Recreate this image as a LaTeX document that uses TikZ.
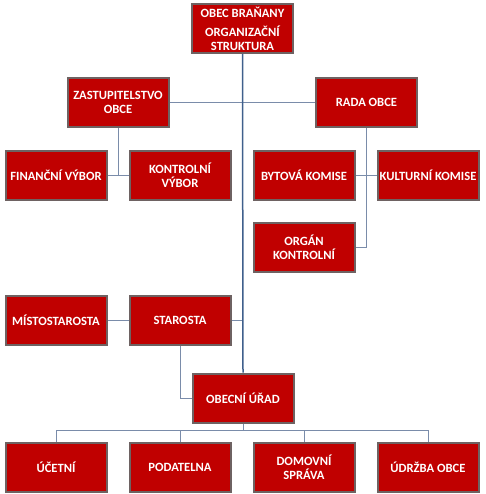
\documentclass[tikz,border=0pt]{standalone}
\usepackage{fontspec}
\setmainfont{Carlito}
\usetikzlibrary{positioning}

\definecolor{boxred}{HTML}{C00000}
\definecolor{boxrim}{HTML}{6E6262}
\definecolor{linkblue}{HTML}{7A8CAA}
\definecolor{trunkblue}{HTML}{3F5F8C}

\begin{document}
\begin{tikzpicture}[x=1pt,y=-1pt,node distance=21pt and 21pt,
    unit/.style={rectangle,fill=boxred,draw=boxrim,line width=2pt,
      minimum width=101pt,minimum height=49pt,inner sep=1pt,align=center,
      text=white,font=\fontsize{12.6}{14}\selectfont\bfseries},
    link/.style={draw=linkblue,line width=0.9pt},
    trunk/.style={draw=trunkblue,line width=1.5pt}]
  \useasboundingbox (0,0) rectangle (485,494);

  \node[unit] (top)  at (242.5,28.5) {OBEC BRAŇANY\\[5pt]ORGANIZAČNÍ\\STRUKTURA};
  \node[unit] (zast) at (118,102.5)  {ZASTUPITELSTVO\\OBCE};
  \node[unit] (rada) at (366.5,102.5){RADA OBCE};

  \node[unit] (fin)  at (56,175.5)   {FINANČNÍ VÝBOR};
  \node[unit] (kon)  [right=of fin]  {KONTROLNÍ\\VÝBOR};
  \node[unit] (byt)  [right=of kon]  {BYTOVÁ KOMISE};
  \node[unit] (kul)  [right=of byt]  {KULTURNÍ KOMISE};
  \node[unit] (org)  [below=of byt]  {ORGÁN\\KONTROLNÍ};

  \node[unit] (mist) at (56,320.5)   {MÍSTOSTAROSTA};
  \node[unit] (star) [right=of mist] {STAROSTA};
  \node[unit] (urad) at (243,398)    {OBECNÍ ÚŘAD};

  \node[unit] (uct)  at (56,467)     {ÚČETNÍ};
  \node[unit] (pod)  [right=of uct]  {PODATELNA};
  \node[unit] (dom)  [right=of pod]  {DOMOVNÍ\\SPRÁVA};
  \node[unit] (udr)  [right=of dom]  {ÚDRŽBA OBCE};

  \coordinate (bus) at (243,430);

  % council and committees
  \path[link] (zast) -- (rada)
              (zast.south) -- (zast.south |- fin.east)
              (fin) -- (kon)
              (rada.south) |- (org.east)
              (byt) -- (kul)
              (mist) -- (star)
              (star.east) -- (star.east -| top.south)
              (star.south) |- (urad.west);
  % office and its departments
  \path[link] (urad.south) -- (bus)
              (uct.north |- bus) -- (udr.north |- bus);
  \foreach \d in {uct,pod,dom,udr}
    \path[link] (\d.north) -- (\d.north |- bus);
  \path[trunk] (top.south) -- (urad.north);
\end{tikzpicture}
\end{document}
